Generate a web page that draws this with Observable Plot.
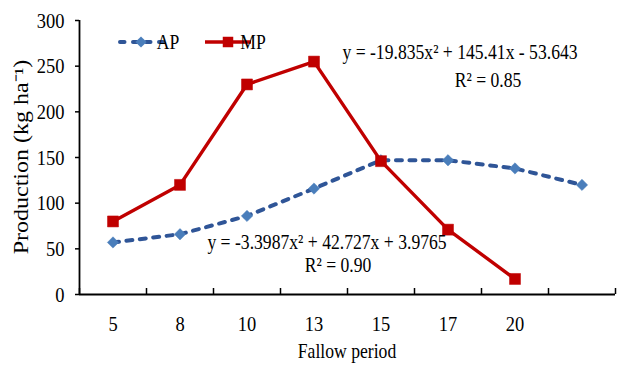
<!DOCTYPE html>
<html><head><meta charset="utf-8">
<script src="https://cdn.jsdelivr.net/npm/d3@7"></script>
<script src="https://cdn.jsdelivr.net/npm/@observablehq/plot@0.6"></script>
<style>
body{margin:0;background:#fff;}
#chart{position:relative;width:620px;height:365px;}
</style></head>
<body><div id="chart"></div>
<script>
// ---- data ----
const categories = ["5", "8", "10", "13", "15", "17", "20", ""];
const apValues = [57, 66, 86, 116, 147, 147, 138, 120];
const mpValues = [80, 120, 230, 255, 146, 71, 17];
const yTicks = [0, 50, 100, 150, 200, 250, 300];
const seriesNames = ["AP", "MP"];
const xTitle = "Fallow period";
const yTitle = "Production (kg ha\u207B\u00B9)";
const apEquation = "y = -3.3987x\u00B2 + 42.727x + 3.9765";
const apR2 = "R\u00B2 = 0.90";
const mpEquation = "y = -19.835x\u00B2 + 145.41x - 53.643";
const mpR2 = "R\u00B2 = 0.85";

// ---- style ----
const font = "'Liberation Serif','Times New Roman',serif";
const apLine = "#2F5597", apMarker = "#4A7EBB", mpColor = "#C00000";

const apRows = apValues.map((v, i) => ({x: i + 0.5, y: v}));
const mpRows = mpValues.map((v, i) => ({x: i + 0.5, y: v}));

const chart = Plot.plot({
  width: 620, height: 365,
  marginLeft: 79, marginRight: 5, marginTop: 20, marginBottom: 71,
  style: {fontFamily: font, fontSize: "22px", color: "#000", background: "#fff", overflow: "visible"},
  x: {domain: [0, categories.length], axis: null},
  y: {domain: [0, 300], axis: null},
  marks: [
    Plot.axisY({ticks: yTicks, tickSize: 4, tickPadding: 11, fontSize: 22, label: null, strokeWidth: 1.5}),
    Plot.ruleX(d3.range(categories.length + 1), {x: d => d, y1: () => 0, y2: () => 0, insetTop: -6, stroke: "#000", strokeWidth: 1.5}),
    Plot.ruleX([0], {stroke: "#000", strokeWidth: 1.8}),
    Plot.ruleY([0], {stroke: "#000", strokeWidth: 1.8}),
    Plot.text(categories, {x: (d, i) => i + 0.5, y: () => 0, dy: 29, text: d => d, fontSize: 22}),
    Plot.line(apRows, {x: "x", y: "y", stroke: apLine, strokeWidth: 4, strokeDasharray: "6,7.5", strokeLinecap: "round"}),
    Plot.dot(apRows, {x: "x", y: "y", symbol: "diamond2", r: 5.1, fill: apMarker, stroke: apMarker, strokeWidth: 0.5}),
    Plot.line(mpRows, {x: "x", y: "y", stroke: mpColor, strokeWidth: 3.4}),
    Plot.dot(mpRows, {x: "x", y: "y", symbol: "square", r: 6.2, fill: mpColor, stroke: mpColor, strokeWidth: 0.5})
  ]
});
document.getElementById("chart").appendChild(chart);

// ---- annotations: legend, equations, axis titles ----
const svg = d3.select(chart);
const g = svg.append("g").attr("font-family", font).attr("fill", "#000");
// legend
g.append("line").attr("x1", 120).attr("x2", 163).attr("y1", 42).attr("y2", 42)
  .attr("stroke", apLine).attr("stroke-width", 4).attr("stroke-dasharray", "4.5,8.5").attr("stroke-linecap", "round");
g.append("path").attr("d", d3.symbol(d3.symbolDiamond2, 80)()).attr("transform", "translate(141,42)").attr("fill", apMarker);
g.append("text").attr("x", 168).attr("y", 42).attr("dy", "0.35em").attr("font-size", 21).text(seriesNames[0]);
g.append("line").attr("x1", 205).attr("x2", 251).attr("y1", 42).attr("y2", 42)
  .attr("stroke", mpColor).attr("stroke-width", 3.4);
g.append("path").attr("d", d3.symbol(d3.symbolSquare, 110)()).attr("transform", "translate(228,42)").attr("fill", mpColor);
g.append("text").attr("x", 253).attr("y", 42).attr("dy", "0.35em").attr("font-size", 21).text(seriesNames[1]);
// equations
const eq = (txt, x, y) => g.append("text").attr("x", x).attr("y", y).attr("dy", "0.35em")
  .attr("text-anchor", "middle").attr("font-size", 21).text(txt);
eq(mpEquation, 460, 52);
eq(mpR2, 488, 80);
eq(apEquation, 327, 242);
eq(apR2, 338, 265);
// axis titles
g.append("text").attr("x", 347).attr("y", 351).attr("dy", "0.35em").attr("text-anchor", "middle")
  .attr("font-size", 21).text(xTitle);
g.append("text").attr("transform", "translate(21,157) rotate(-90)").attr("dy", "0.35em")
  .attr("text-anchor", "middle").attr("font-size", 24).text(yTitle);

// horizontally condensed look of the original
svg.selectAll("text").each(function () {
  const t = this.getAttribute("transform");
  if (t) {
    this.setAttribute("transform", t + (t.includes("rotate") ? " scale(1,0.84)" : " scale(0.84,1)"));
  } else {
    const x = +this.getAttribute("x") || 0, y = +this.getAttribute("y") || 0;
    this.setAttribute("x", 0); this.setAttribute("y", 0);
    this.setAttribute("transform", `translate(${x},${y}) scale(0.84,1)`);
  }
});
</script>
</body></html>
